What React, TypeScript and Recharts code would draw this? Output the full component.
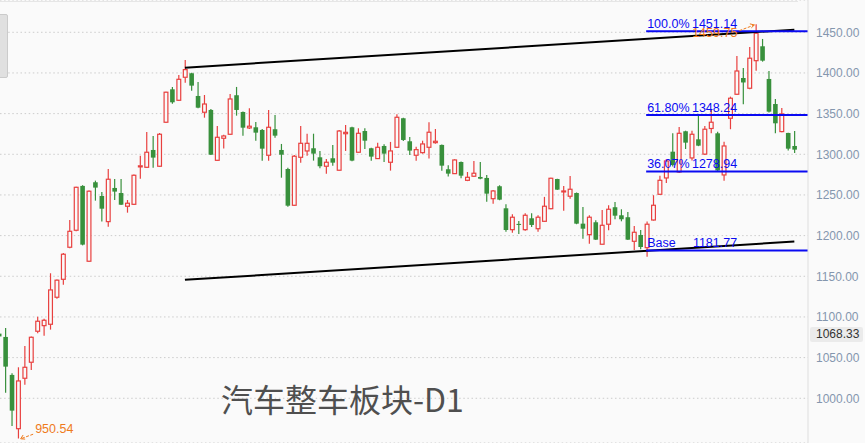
import React from 'react';
import {
  ComposedChart,
  Bar,
  XAxis,
  YAxis,
  CartesianGrid,
  ReferenceLine,
  ReferenceDot,
} from 'recharts';

// daily candles, first one is cut off at the left edge (index -1)
const opens = [
  1079.5, 1075.4, 1028.7, 962.6, 1024.6, 1044.3, 1082.4, 1089.3, 1091, 1124.2, 1146.3, 1185.7, 1206.6,
  1261.1, 1168.5, 1265.6, 1248.7, 1217.2, 1258.6, 1252.4, 1236.1, 1238.5, 1284.5, 1284, 1305.3,
  1285.3, 1339.4, 1379.9, 1366.4, 1394.7, 1399.6, 1371.7, 1351.7, 1354.5, 1292.6, 1319.7, 1324.6,
  1372.6, 1352, 1332.4, 1333.2, 1329.9, 1298.8, 1330.8, 1305.3, 1281.9, 1237.3, 1296.3, 1304.1,
  1307.4, 1296.3, 1285.3, 1295.1, 1280.4, 1325.3, 1333.2, 1302.5, 1328.6, 1307.4, 1294.7, 1310.2,
  1290.2, 1308.6, 1344.3, 1316, 1298.8, 1302, 1308.6, 1314.3, 1311.5, 1281.6, 1276.2, 1290.5,
  1268, 1273, 1272.1, 1270.9, 1245.4, 1260.7, 1233.6, 1207.3, 1214.4, 1207.3, 1221.3, 1208.5,
  1217.6, 1233.1, 1269.6, 1253.7, 1248.4, 1252.4, 1214.7, 1201.2, 1216.4, 1189.4, 1214, 1234.9,
  1225, 1222.6, 1193, 1200.8, 1185.2, 1219.2, 1250.8, 1270.9, 1303.2, 1278.2, 1328.3, 1295.5,
  1318.4, 1300.2, 1331.7, 1325.8, 1274.6, 1344.3, 1373.8, 1393.8, 1381.2, 1415.1, 1432.8, 1392.6,
  1361.8, 1327.9, 1326.2, 1310.2,
];
const highs = [
  1082, 1086.4, 1030.7, 1038.1, 1064.3, 1076, 1100.3, 1097.9, 1153.7, 1146, 1178.7, 1219.2, 1260,
  1262, 1255.5, 1267.6, 1253.7, 1281.9, 1269.6, 1269.6, 1243.8, 1275, 1298.3, 1327.4, 1322.5,
  1326.2, 1377, 1382.8, 1397.5, 1416, 1400.3, 1388.9, 1372.9, 1355.7, 1334.8, 1324.1, 1374.2,
  1382.8, 1352.5, 1356.6, 1339.7, 1331.1, 1354.5, 1348.4, 1312.7, 1283.5, 1299.2, 1334.8, 1325.3,
  1325.3, 1304.1, 1294.2, 1311.5, 1329.9, 1336, 1334, 1332, 1332, 1308, 1314.3, 1312.3,
  1315.2, 1349.2, 1345, 1321.2, 1309.4, 1316.7, 1339.4, 1331.1, 1312, 1286.5, 1293.9, 1291,
  1278.2, 1291.8, 1290.5, 1274.6, 1256.1, 1261.9, 1238.5, 1226.2, 1218, 1227.5, 1227.5, 1225,
  1247.6, 1271, 1270, 1261.1, 1273.4, 1253, 1235.2, 1225, 1218.9, 1231.6, 1237.3, 1241.4,
  1232.4, 1229.1, 1211.9, 1207, 1217.2, 1249.7, 1273.7, 1294.2, 1325.8, 1333.6, 1329, 1329,
  1347.1, 1334.8, 1354.5, 1327.8, 1315.5, 1370.9, 1420.9, 1406.1, 1431.8, 1459.75, 1441.8, 1402.4,
  1368, 1357, 1326.5, 1328.7,
];
const lows = [
  1072, 1006.9, 965.9, 950.54, 1016.7, 1034.8, 1079.9, 1077, 1084.4, 1122.5, 1139.7, 1184.5, 1205.5,
  1188, 1167.5, 1243, 1217.2, 1211, 1243.8, 1237.5, 1228.2, 1237.5, 1270, 1283, 1283.5,
  1284.4, 1338.5, 1362.2, 1365.5, 1388, 1378.2, 1356.5, 1345, 1299, 1292, 1307, 1324,
  1347.5, 1322.9, 1331.1, 1316.7, 1292.2, 1292.2, 1320.4, 1271.2, 1235.6, 1236.5, 1289.7, 1298.3,
  1292.2, 1282.8, 1276.2, 1286, 1279.8, 1304.1, 1291.5, 1302, 1306.5, 1292.2, 1294.2, 1290.5,
  1279.9, 1308, 1316.4, 1299.2, 1292.2, 1300.8, 1294.7, 1313, 1279.9, 1272.6, 1275.7, 1270.5,
  1267, 1272, 1269.3, 1241.7, 1239.3, 1243.5, 1204.8, 1203.6, 1202, 1206.1, 1210.6, 1204.8,
  1217, 1232.5, 1256, 1230.7, 1245.4, 1214, 1196.2, 1190.1, 1194.5, 1189, 1206.6, 1220.1,
  1217.6, 1194.5, 1182.3, 1183.2, 1174.1, 1218.5, 1250, 1264.7, 1285, 1277, 1306.5, 1292.4,
  1310, 1299.2, 1325.8, 1278.6, 1267.6, 1330.8, 1373, 1361.5, 1380, 1402.8, 1413.9, 1351.5,
  1325.8, 1327, 1304.5, 1301.6,
];
const closes = [
  1076, 1038.9, 984.8, 1021.3, 1038.1, 1075, 1094.7, 1095.9, 1133.2, 1145.2, 1177.1, 1205.3, 1259.4,
  1188.9, 1254.6, 1259, 1233.1, 1269.3, 1254.1, 1238, 1239.8, 1274.2, 1285.8, 1302.5, 1295.9,
  1324.6, 1376.3, 1363.9, 1392.2, 1404.1, 1384.4, 1357.3, 1361.8, 1299.5, 1320.9, 1322.5, 1368,
  1354.5, 1332.7, 1334.5, 1326.6, 1306.9, 1333.2, 1322.9, 1299.5, 1236.8, 1297.6, 1313.5, 1313.5,
  1300.8, 1285.3, 1290.2, 1289.7, 1328.6, 1327, 1292.2, 1325.8, 1316.7, 1297.1, 1308.6, 1300.8,
  1304.1, 1345.5, 1317.6, 1304.5, 1305.7, 1312.7, 1327.1, 1316, 1286, 1276.2, 1293, 1273.7,
  1271.7, 1276.7, 1270, 1251.6, 1254.9, 1244.2, 1206.9, 1222.6, 1213.1, 1225, 1213.1, 1222.6,
  1236.1, 1270.5, 1256.5, 1254.9, 1257, 1214.7, 1208.5, 1222.6, 1195, 1212.7, 1232.4, 1224.5,
  1220.1, 1195, 1204.1, 1186, 1214, 1237.3, 1268, 1291.8, 1286.8, 1325.8, 1314.3, 1324.6,
  1310.6, 1330.8, 1339.4, 1280.1, 1310.2, 1368.9, 1402.4, 1388.3, 1418.1, 1448.8, 1415.1, 1352.4,
  1338.1, 1349.6, 1306.9, 1305.7,
];

const priceTicks = [1000, 1050, 1100, 1150, 1200, 1250, 1300, 1350, 1400, 1450];

// channel lines (start / end candle and price)
const upperChannel = [
  { x: 28, y: 1406.5 },
  { x: 123, y: 1453.2 },
];
const lowerChannel = [
  { x: 28, y: 1145.6 },
  { x: 123, y: 1192.8 },
];

const fibLevels = [
  { name: '100.0%', value: 1451.14 },
  { name: '61.80%', value: 1348.24 },
  { name: '36.07%', value: 1278.94 },
  { name: 'Base', value: 1181.77 },
];
const fibStart = 99.9;

const highMark = { x: 117, y: 1459.75, text: '1459.75' };
const lowMark = { x: 2, y: 950.54, text: '950.54' };

const RED = '#e8403f';
const GREEN = '#38903c';
const BLUE = '#0a0af2';
const ORANGE = '#ef7a1c';
const BG = '#fafafa';
const FONT = '"Liberation Sans", Arial, sans-serif';

const X_DOMAIN: [number, number] = [-0.83, 125.13];

const data = opens.map((open, i) => ({
  idx: i - 1,
  open,
  close: closes[i],
  high: highs[i],
  low: lows[i],
  range: [lows[i], highs[i]],
}));

function Candle(props: any) {
  const { x, y, width, height, payload } = props;
  if (payload == null || !isFinite(x) || !isFinite(y)) return null;
  const { open, close, high, low } = payload;
  const span = high - low || 1;
  const toY = (v: number) => y + ((high - v) / span) * height;
  const cx = x + width / 2;
  const yTop = toY(Math.max(open, close));
  const yBot = toY(Math.min(open, close));

  if (close >= open) {
    // rising day: hollow red body
    return (
      <g>
        <line x1={cx} x2={cx} y1={y} y2={yTop} stroke={RED} strokeWidth={1.2} />
        <line x1={cx} x2={cx} y1={yBot} y2={y + height} stroke={RED} strokeWidth={1.2} />
        <rect
          x={x + 0.6}
          y={yTop}
          width={width - 1.2}
          height={Math.max(yBot - yTop, 0.6)}
          fill={BG}
          stroke={RED}
          strokeWidth={1.2}
        />
      </g>
    );
  }
  return (
    <g>
      <line x1={cx} x2={cx} y1={y} y2={y + height} stroke={GREEN} strokeWidth={1.2} />
      <rect x={x + 0.2} y={yTop} width={width - 0.4} height={Math.max(yBot - yTop, 1)} fill={GREEN} />
    </g>
  );
}

function FibLabel({ viewBox, name, value }: any) {
  if (!viewBox) return null;
  const { x, y } = viewBox;
  return (
    <g fontFamily={FONT} fontSize={12.5} fill={BLUE}>
      <text x={x + 1} y={y - 3.5}>{name}</text>
      <text x={x + 91} y={y - 3.5} textAnchor="end">{value.toFixed(2)}</text>
    </g>
  );
}

function HighMarker(props: any) {
  const { cx, cy } = props;
  if (!isFinite(cx)) return null;
  return (
    <g>
      <line x1={cx - 16.5} y1={cy + 6.3} x2={cx - 1.5} y2={cy + 0.6} stroke={ORANGE} strokeWidth={1} strokeDasharray="3 1.5" />
      <polyline points={`${cx - 6},${cy - 0.5} ${cx - 1.5},${cy + 0.6} ${cx - 4.5},${cy + 3.5}`} fill="none" stroke={ORANGE} strokeWidth={1} />
      <text x={cx - 18.5} y={cy + 13} textAnchor="end" fontFamily={FONT} fontSize={12.5} fill={ORANGE}>
        {highMark.text}
      </text>
    </g>
  );
}

function LowMarker(props: any) {
  const { cx, cy } = props;
  if (!isFinite(cx)) return null;
  return (
    <g>
      <line x1={cx + 15} y1={cy - 4.3} x2={cx + 2.5} y2={cy + 0.3} stroke={ORANGE} strokeWidth={1} strokeDasharray="3 1.5" />
      <polyline points={`${cx + 5},${cy - 3.5} ${cx + 2.5},${cy + 0.3} ${cx + 7},${cy + 0.6}`} fill="none" stroke={ORANGE} strokeWidth={1} />
      <text x={cx + 17} y={cy - 5} fontFamily={FONT} fontSize={12.5} fill={ORANGE}>
        {lowMark.text}
      </text>
    </g>
  );
}

export default function App() {
  return (
    <div style={{ position: 'absolute', left: 0, top: 0, width: 865, height: 443, background: BG, overflow: 'hidden' }}>
      <ComposedChart width={865} height={443} data={data} margin={{ top: 0, right: 0, bottom: 0, left: 0 }}>
        <CartesianGrid vertical={false} stroke="#cccccc" strokeDasharray="1.5 2.6" />
        <XAxis type="number" dataKey="idx" domain={X_DOMAIN} allowDataOverflow hide />
        <YAxis
          orientation="right"
          width={57}
          domain={[945.0, 1489.7]}
          ticks={priceTicks}
          allowDataOverflow
          tickFormatter={(v: number) => v.toFixed(2)}
          axisLine={{ stroke: '#dedede' }}
          tickLine={false}
          tick={{ fill: '#8496ae', fontSize: 12, fontFamily: FONT }}
        />
        <Bar dataKey="range" barSize={5} shape={(p: any) => <Candle {...p} />} isAnimationActive={false} />
        <ReferenceLine segment={upperChannel} stroke="#000" strokeWidth={2} ifOverflow="visible" />
        <ReferenceLine segment={lowerChannel} stroke="#000" strokeWidth={2} ifOverflow="visible" />
        {fibLevels.map((f) => (
          <ReferenceLine
            key={f.name}
            segment={[
              { x: fibStart, y: f.value },
              { x: X_DOMAIN[1], y: f.value },
            ]}
            stroke={BLUE}
            strokeWidth={2}
            ifOverflow="visible"
            label={(p: any) => <FibLabel viewBox={p.viewBox} name={f.name} value={f.value} />}
          />
        ))}
        <ReferenceDot x={highMark.x} y={highMark.y} r={0} ifOverflow="visible" shape={(p: any) => <HighMarker {...p} />} />
        <ReferenceDot x={lowMark.x} y={lowMark.y} r={0} ifOverflow="visible" shape={(p: any) => <LowMarker {...p} />} />
      </ComposedChart>

      {/* title */}
      <div
        style={{
          position: 'absolute',
          left: 221,
          top: 378,
          fontFamily: '"Noto Sans CJK SC", "Noto Sans", sans-serif',
          fontSize: 32,
          color: '#4f4f4f',
          whiteSpace: 'nowrap',
          lineHeight: '40px',
        }}
      >
        汽车整车板块-D1
      </div>

      {/* top border */}
      <div style={{ position: 'absolute', left: 0, top: 1, width: 798, height: 1, background: '#e6e6e6' }} />

      {/* scroll tab on the left edge */}
      <div
        style={{
          position: 'absolute',
          left: -3,
          top: 14,
          width: 9,
          height: 62,
          background: '#e0e0e0',
          border: '1px solid #cbcbcb',
          borderRadius: 2,
        }}
      />

      {/* current price tag */}
      <div
        style={{
          position: 'absolute',
          left: 810,
          top: 327,
          width: 53,
          height: 15,
          background: '#ebebeb',
          borderRadius: 2,
          fontFamily: FONT,
          fontSize: 12,
          color: '#333',
          lineHeight: '15px',
          paddingLeft: 6,
          boxSizing: 'border-box',
        }}
      >
        1068.33
      </div>
    </div>
  );
}
